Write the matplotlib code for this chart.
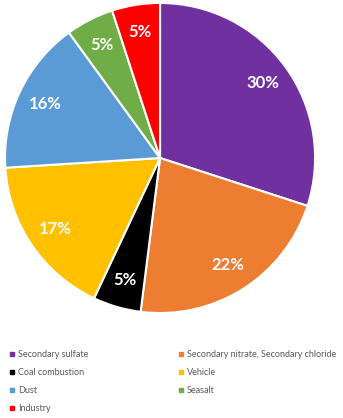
import matplotlib.pyplot as plt
from matplotlib.lines import Line2D

OUTPUT_PLOT_FILE = "out.png"

# sources, clockwise from 12 o'clock
sources = ["Secondary sulfate", "Secondary nitrate, Secondary chloride",
           "Coal combustion", "Vehicle", "Dust", "Seasalt", "Industry"]
shares = [30, 22, 5, 17, 16, 5, 5]
colors = ["#7030A0", "#ED7D31", "#000000", "#FFC000", "#5B9BD5", "#70AD47", "#FF0000"]

# legend reads row-wise in the original, matplotlib fills column-wise
legend_order = [0, 2, 4, 6, 1, 3, 5]


def plot_pie():
    plt.rcParams['font.family'] = ['Lato', 'DejaVu Sans']
    fig = plt.figure(figsize=(3.43, 4.18), dpi=100)
    ax = fig.add_axes([0.0146, 0.251, 0.904, 0.742])

    wedges, texts, autotexts = ax.pie(
        shares, colors=colors, startangle=90, counterclock=False,
        autopct=lambda p: f"{p:.0f}%", pctdistance=0.82,
        wedgeprops=dict(edgecolor="white", linewidth=1.5),
        textprops=dict(color="white", fontsize=12, fontweight="bold"))
    ax.set_xlim(-1, 1)
    ax.set_ylim(-1, 1)
    ax.set_aspect("equal")

    handles = [Line2D([], [], marker="s", linestyle="none", markersize=3.5,
                      color=colors[i]) for i in legend_order]
    labels = [sources[i] for i in legend_order]
    fig.legend(handles, labels, ncol=2, loc="upper left",
               bbox_to_anchor=(0.026, 0.163), frameon=False,
               fontsize=6.5, labelcolor="#595959", handlelength=0.6,
               handletextpad=0.4, columnspacing=9.95, labelspacing=1.0,
               borderaxespad=0.0, borderpad=0.0)

    fig.savefig(OUTPUT_PLOT_FILE, dpi=100)


def main():
    plot_pie()


if __name__ == "__main__":
    main()
